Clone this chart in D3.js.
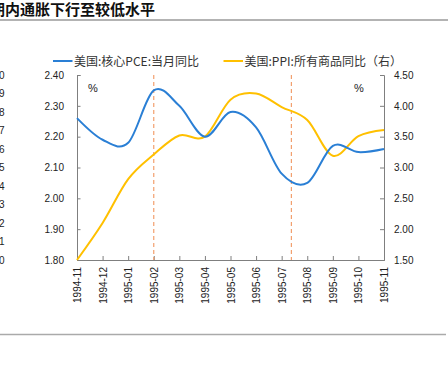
<!DOCTYPE html>
<html><head><meta charset="utf-8">
<script src="https://cdn.jsdelivr.net/npm/d3@7/dist/d3.min.js"></script>
<style>
html,body{margin:0;padding:0;background:#fff;}
svg{display:block;}
</style></head>
<body>
<script>
const months = ["1994-11","1994-12","1995-01","1995-02","1995-03","1995-04","1995-05","1995-06","1995-07","1995-08","1995-09","1995-10","1995-11"];
const pceCore = [2.26,2.19,2.18,2.35,2.30,2.20,2.28,2.23,2.08,2.05,2.17,2.15,2.16];
const ppiAll  = [1.50,2.10,2.81,3.21,3.52,3.50,4.10,4.20,3.98,3.77,3.19,3.51,3.61];
const leftTicks  = [1.80,1.90,2.00,2.10,2.20,2.30,2.40];
const rightTicks = [1.50,2.00,2.50,3.00,3.50,4.00,4.50];
const eventMonths  = ["1995-02","1995-07"];
const eventOffsets = [0, 0.38];
const neighborTicks = ["3.0","2.9","2.8","2.7","2.6","2.5","2.4","2.3","2.2","2.1","2.0"];
const titleText = "期内通胀下行至较低水平";
const legendLabels = ["美国:核心PCE:当月同比","美国:PPI:所有商品同比（右）"];

const W = 448, H = 369;
const svg = d3.select("body").append("svg").attr("width", W).attr("height", H);
const fontNum = "'Liberation Sans', Arial, sans-serif";
const fontCJK = "'Noto Sans CJK SC', sans-serif";

// title and separators
svg.append("text").attr("x", -10).attr("y", 15)
  .attr("font-family", fontCJK).attr("font-weight", "bold").attr("font-size", 15)
  .attr("fill", "#111").text(titleText);
svg.append("line").attr("x1", 0).attr("x2", W).attr("y1", 20).attr("y2", 20)
  .attr("stroke", "#9a9a9a").attr("stroke-width", 1.6);
svg.append("line").attr("x1", 0).attr("x2", 446).attr("y1", 334.5).attr("y2", 334.5)
  .attr("stroke", "#aaaaaa").attr("stroke-width", 1.3);

const x0 = 77, x1 = 384, yTop = 75, yBot = 260;
const x = d3.scalePoint().domain(months).range([x0, x1]);
const yL = d3.scaleLinear().domain([1.8, 2.4]).range([yBot, yTop]);
const yR = d3.scaleLinear().domain([1.5, 4.5]).range([yBot, yTop]);

// neighbor chart's cut-off axis labels
const yN = d3.scalePoint().domain(neighborTicks).range([yTop, yBot]);
svg.append("g").selectAll("text").data(neighborTicks).join("text")
  .attr("x", 4.5).attr("y", d => yN(d)).attr("dy", "0.35em")
  .attr("text-anchor", "end").attr("font-family", fontNum).attr("font-size", 10)
  .attr("fill", "#222").text(d => d);

// axes
const axisColor = "#7f7f7f";
const gL = svg.append("g").attr("transform", `translate(${x0},0)`)
  .call(d3.axisRight(yL).tickValues(leftTicks).tickSize(3.5).tickFormat(d3.format(".2f")));
gL.selectAll("text").attr("x", -13).attr("text-anchor", "end");
const gR = svg.append("g").attr("transform", `translate(${x1},0)`)
  .call(d3.axisLeft(yR).tickValues(rightTicks).tickSize(4).tickFormat(d3.format(".2f")));
gR.selectAll("text").attr("x", 10).attr("text-anchor", "start");
const gX = svg.append("g").attr("transform", `translate(0,${yBot})`)
  .call(d3.axisTop(x).tickSize(4));
gX.selectAll("text").attr("transform", "rotate(-90)")
  .attr("x", -7).attr("y", 0).attr("dy", "0.35em").attr("text-anchor", "end");
[gL, gR, gX].forEach(g => {
  g.select(".domain").attr("stroke", axisColor);
  g.selectAll(".tick line").attr("stroke", axisColor);
  g.selectAll("text").attr("font-family", fontNum).attr("font-size", 10).attr("fill", "#222");
});

// unit labels
svg.append("text").attr("x", 93).attr("y", 92).attr("text-anchor", "middle")
  .attr("font-family", fontNum).attr("font-size", 11).attr("fill", "#222").text("%");
svg.append("text").attr("x", 359).attr("y", 92).attr("text-anchor", "middle")
  .attr("font-family", fontNum).attr("font-size", 11).attr("fill", "#222").text("%");

// event dashed lines
const step = x.step();
svg.append("g").selectAll("line").data(eventMonths).join("line")
  .attr("x1", (d, i) => x(d) + eventOffsets[i] * step)
  .attr("x2", (d, i) => x(d) + eventOffsets[i] * step)
  .attr("y1", yTop).attr("y2", yBot)
  .attr("stroke", "#f2a06e").attr("stroke-width", 1.2).attr("stroke-dasharray", "4,3");

// series lines
const curve = d3.curveCardinal.tension(0);
const lineL = d3.line().x((d, i) => x(months[i])).y(d => yL(d)).curve(curve);
const lineR = d3.line().x((d, i) => x(months[i])).y(d => yR(d)).curve(curve);
const blue = "#2a7fd5", gold = "#ffc000";
svg.append("path").attr("d", lineR(ppiAll)).attr("fill", "none")
  .attr("stroke", gold).attr("stroke-width", 2);
svg.append("path").attr("d", lineL(pceCore)).attr("fill", "none")
  .attr("stroke", blue).attr("stroke-width", 2);

// legend
const legX = [53, 223.5];
const legColors = [blue, gold];
const leg = svg.append("g").selectAll("g").data(legendLabels).join("g")
  .attr("transform", (d, i) => `translate(${legX[i]},61)`);
leg.append("line").attr("x1", 0).attr("x2", 19.5).attr("y1", 0).attr("y2", 0)
  .attr("stroke", (d, i) => legColors[i]).attr("stroke-width", 2);
leg.append("text").attr("x", 21).attr("y", 0).attr("dy", "0.38em")
  .attr("font-family", fontCJK).attr("font-size", 12).attr("fill", "#333").text(d => d);
</script>
</body></html>
